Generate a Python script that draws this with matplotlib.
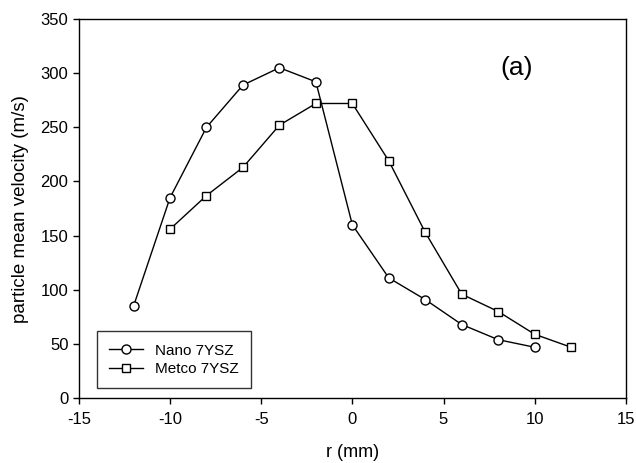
import matplotlib.pyplot as plt

plt.rcParams['font.family'] = ['Liberation Sans', 'DejaVu Sans']
plt.rcParams['axes.unicode_minus'] = False

# radial position (mm) and mean particle velocity (m/s)
r_nano = [-12, -10, -8, -6, -4, -2, 0, 2, 4, 6, 8, 10]
v_nano = [85, 185, 250, 289, 305, 292, 160, 111, 91, 68, 54, 47]

r_metco = [-10, -8, -6, -4, -2, 0, 2, 4, 6, 8, 10, 12]
v_metco = [156, 187, 213, 252, 272, 272, 219, 153, 96, 80, 59, 47]

fig = plt.figure(figsize=(6.36, 4.63), dpi=100)
ax = fig.add_axes([0.124, 0.140, 0.860, 0.819])

ax.plot(r_nano, v_nano, color='black', lw=1.0, marker='o', ms=6.5,
        mfc='white', mec='black', mew=1.0, label='Nano 7YSZ')
ax.plot(r_metco, v_metco, color='black', lw=1.0, marker='s', ms=6,
        mfc='white', mec='black', mew=1.0, label='Metco 7YSZ')

ax.set_xlim(-15, 15)
ax.set_ylim(0, 350)
ax.set_xticks(range(-15, 16, 5))
ax.set_yticks(range(0, 351, 50))
ax.tick_params(direction='out', length=4, labelsize=12, width=1)
ax.tick_params(axis='x', pad=6)
for s in ax.spines.values():
    s.set_linewidth(1.0)

ax.set_xlabel('r (mm)', fontsize=13, labelpad=12)
ax.set_ylabel('particle mean velocity (m/s)', fontsize=13.5, labelpad=8)

ax.text(0.80, 0.871, '(a)', transform=ax.transAxes, fontsize=19,
        ha='center', va='center')

leg = ax.legend(loc='lower left', bbox_to_anchor=(0.033, 0.026),
                fontsize=11, frameon=True, fancybox=False,
                edgecolor='black', handlelength=2.2, borderaxespad=0,
                borderpad=0.8, labelspacing=0.3)
leg.get_frame().set_linewidth(1.0)

fig.savefig('out.png', dpi=100)
